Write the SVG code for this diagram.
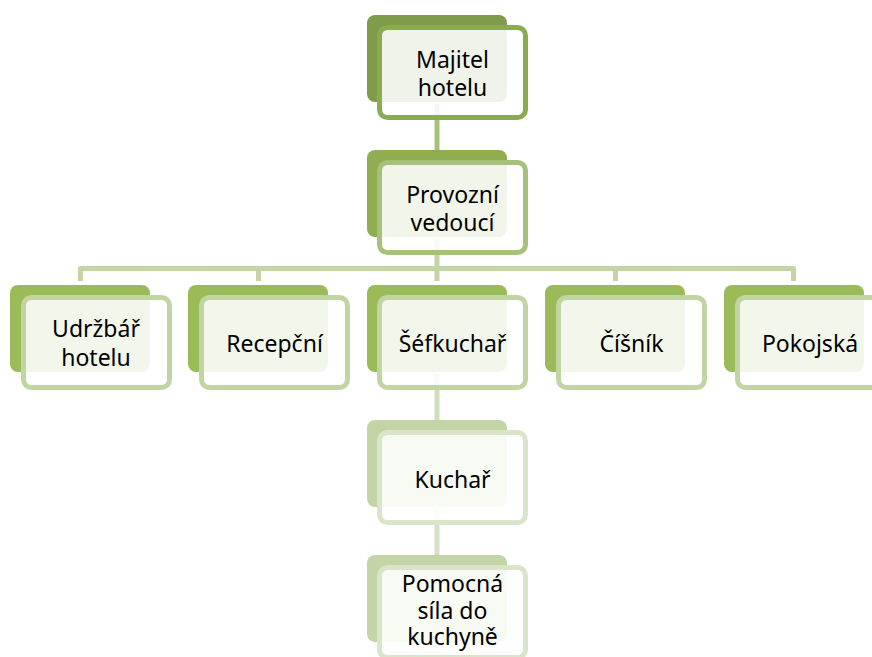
<svg xmlns="http://www.w3.org/2000/svg" width="872" height="657" viewBox="0 0 872 657">
<style>
.back{stroke:none}
.front{fill:#ffffff;fill-opacity:0.88;stroke-width:5}
.l1 .back{fill:#7f9c4a}.l1 .front{stroke:#8aab50}
.l2 .back{fill:#8fae52}.l2 .front{stroke:#a6c27a}
.l3 .back{fill:#9bbb59}.l3 .front{stroke:#c1d5a3}
.l4 .back{fill:#c3d5a7}.l4 .front{stroke:#d8e5c8}
text{font-family:"Noto Sans","Open Sans","Liberation Sans",sans-serif;font-size:23px;fill:#000;text-anchor:middle}
.c{fill:none;stroke-width:5;stroke-linejoin:round}
</style>
<rect width="872" height="657" fill="#ffffff"/>
<g id="connectors">
<path class="c" d="M437 104V150" stroke="#a5c07b"/>
<path class="c" d="M437 239V268.5M80.5 281V268.5H793.5V281M258.5 268.5V281M437 268.5V281M615.5 268.5V281" stroke="#c3d5a5"/>
<path class="c" d="M437 374V420" stroke="#cfdebb"/>
<path class="c" d="M437 509V555" stroke="#d5e2c4"/>
</g>
<g id="n-majitel" class="l1">
<rect class="back" x="367" y="15" width="140" height="87" rx="8"/>
<rect class="front" x="379.5" y="27.5" width="146" height="90" rx="8"/>
<text x="452.5" y="68">Majitel</text>
<text x="452.5" y="96">hotelu</text>
</g>
<g id="n-provozni" class="l2">
<rect class="back" x="367" y="150" width="140" height="87" rx="8"/>
<rect class="front" x="379.5" y="162.5" width="146" height="90" rx="8"/>
<text x="452.5" y="203">Provozní</text>
<text x="452.5" y="231">vedoucí</text>
</g>
<g id="n-udrzbar" class="l3">
<rect class="back" x="10" y="285" width="140" height="87" rx="8"/>
<rect class="front" x="23.5" y="297.5" width="146" height="90" rx="8"/>
<text x="96" y="337">Udržbář</text>
<text x="96" y="366">hotelu</text>
</g>
<g id="n-recepcni" class="l3">
<rect class="back" x="188" y="285" width="140" height="87" rx="8"/>
<rect class="front" x="201.5" y="297.5" width="146" height="90" rx="8"/>
<text x="274.5" y="352">Recepční</text>
</g>
<g id="n-sefkuchar" class="l3">
<rect class="back" x="367" y="285" width="140" height="87" rx="8"/>
<rect class="front" x="379.5" y="297.5" width="146" height="90" rx="8"/>
<text x="452.5" y="352">Šéfkuchař</text>
</g>
<g id="n-cisnik" class="l3">
<rect class="back" x="545" y="285" width="140" height="87" rx="8"/>
<rect class="front" x="558.5" y="297.5" width="146" height="90" rx="8"/>
<text x="631.5" y="352">Číšník</text>
</g>
<g id="n-pokojska" class="l3">
<rect class="back" x="724" y="285" width="140" height="87" rx="8"/>
<rect class="front" x="737.5" y="297.5" width="146" height="90" rx="8"/>
<text x="810" y="352">Pokojská</text>
</g>
<g id="n-kuchar" class="l4">
<rect class="back" x="367" y="420" width="140" height="87" rx="8"/>
<rect class="front" x="379.5" y="432.5" width="146" height="90" rx="8"/>
<text x="452.5" y="488">Kuchař</text>
</g>
<g id="n-pomocna" class="l4">
<rect class="back" x="367" y="555" width="140" height="87" rx="8"/>
<rect class="front" x="379.5" y="567.5" width="146" height="90" rx="8"/>
<text x="452.5" y="592">Pomocná</text>
<text x="452.5" y="618.5">síla do</text>
<text x="452.5" y="645">kuchyně</text>
</g>
</svg>
